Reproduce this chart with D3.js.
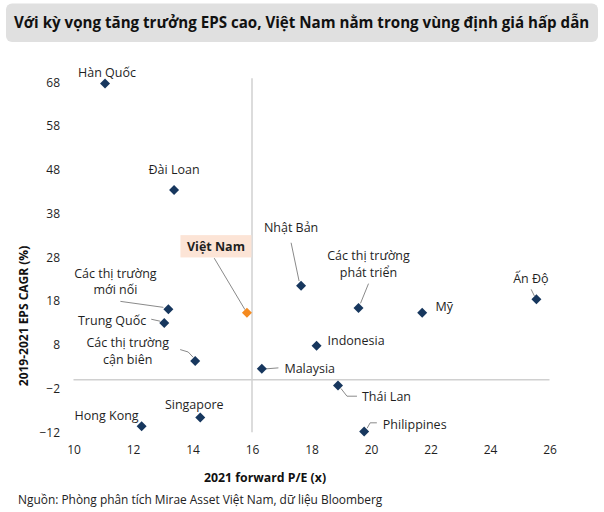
<!DOCTYPE html>
<html><head><meta charset="utf-8">
<script src="https://cdn.jsdelivr.net/npm/d3@7/dist/d3.min.js"></script>
<style>
html,body{margin:0;padding:0;background:#fff;}
svg{display:block;font-family:"Open Sans",sans-serif;}
</style></head><body>
<svg id="c" width="604" height="512"></svg>
<script>
// ---- data ----
const markets = ["Hàn Quốc","Đài Loan","Việt Nam","Các thị trường mới nổi","Trung Quốc","Các thị trường cận biên","Hong Kong","Singapore","Malaysia","Nhật Bản","Các thị trường phát triển","Mỹ","Ấn Độ","Indonesia","Thái Lan","Philippines"];
const forwardPE = [11.06,13.38,15.83,13.19,13.05,14.09,12.29,14.26,16.33,17.65,19.58,21.72,25.56,18.17,18.89,19.77];
const epsCAGR  = [67.7,43.4,15.35,16.1,13.0,4.3,-10.6,-8.6,2.5,21.5,16.4,15.3,18.4,7.8,-1.3,-11.8];
const xTicks = [10,12,14,16,18,20,22,24,26];
const yTicks = [-12,-2,8,18,28,38,48,58,68];
const title = "Với kỳ vọng tăng trưởng EPS cao, Việt Nam nằm trong vùng định giá hấp dẫn";
const xTitle = "2021 forward P/E (x)";
const yTitle = "2019-2021 EPS CAGR (%)";
const source = "Nguồn: Phòng phân tích Mirae Asset Việt Nam, dữ liệu Bloomberg";

// ---- label layout (pixel offsets from each point) ----
const labelLayout = {
  "Hàn Quốc": {lines:["Hàn Quốc"], dx:2, dy:-11, anchor:"middle"},
  "Đài Loan": {lines:["Đài Loan"], dx:0, dy:-20, anchor:"middle"},
  "Việt Nam": {lines:["Việt Nam"], dx:-31, dy:-66.5, anchor:"middle", box:true, leader:[[-32.7,-54.5],[-2,-3]]},
  "Các thị trường mới nổi": {lines:["Các thị trường","mới nối"], dx:-53, dy:-36, anchor:"middle", leader:[[-48,-8],[-5,-2]]},
  "Trung Quốc": {lines:["Trung Quốc"], dx:-18, dy:-2.7, anchor:"end", leader:[[-13,-3.7],[-4,-1.7]]},
  "Các thị trường cận biên": {lines:["Các thị trường","cận biên"], dx:-67.5, dy:-18, anchor:"middle", leader:[[-15,-11.4],[-7,-9],[-2,-3.7]]},
  "Hong Kong": {lines:["Hong Kong"], dx:-3, dy:-11, anchor:"end"},
  "Singapore": {lines:["Singapore"], dx:-6, dy:-13.3, anchor:"middle"},
  "Malaysia": {lines:["Malaysia"], dx:22.6, dy:0, anchor:"start", leader:[[4,0],[16.6,-1]]},
  "Nhật Bản": {lines:["Nhật Bản"], dx:-10, dy:-58.4, anchor:"middle", leader:[[-10,-43],[-2,-4.7]]},
  "Các thị trường phát triển": {lines:["Các thị trường","phát triển"], dx:10, dy:-52, anchor:"middle", leader:[[10,-24.4],[2,-4.7]]},
  "Mỹ": {lines:["Mỹ"], dx:13.3, dy:-6.7, anchor:"start"},
  "Ấn Độ": {lines:["Ấn Độ"], dx:-5.5, dy:-20.6, anchor:"middle", leader:[[-5.3,-10],[-2,-3.3]]},
  "Indonesia": {lines:["Indonesia"], dx:11, dy:-5, anchor:"start"},
  "Thái Lan": {lines:["Thái Lan"], dx:24, dy:11.4, anchor:"start", leader:[[3,3],[9,10.7],[19,10.7]]},
  "Philippines": {lines:["Philippines"], dx:18.7, dy:-7, anchor:"start", leader:[[3,-3.3],[6,-8.6],[12.7,-8.6]]}
};

const svg = d3.select("#c");
const navy = "#17375e", orange = "#f58a1f", txt = "#1f1f1f";

// title box
svg.append("rect").attr("x",6).attr("y",3.5).attr("width",592).attr("height",38.5)
  .attr("rx",6).attr("fill","#e0e0e0");
const tt = svg.append("text").attr("x",14).attr("y",27.5).attr("fill","#111")
  .attr("font-weight",700).attr("font-size",15).text(title);
const tw = tt.node().getComputedTextLength();
tt.attr("font-size", 15*576/tw);

const x = d3.scaleLinear().domain([10,26]).range([73.5,549.5]);
const y = d3.scaleLinear().domain([-12,68]).range([432.3,82.3]);

// axis lines (crossing at x=16, y=0)
svg.append("line").attr("x1",x(10)).attr("x2",x(26)).attr("y1",y(0)).attr("y2",y(0))
  .attr("stroke","#d0d0d0").attr("stroke-width",1.5);
svg.append("line").attr("x1",x(16)).attr("x2",x(16)).attr("y1",y(68)-4).attr("y2",y(-12))
  .attr("stroke","#d0d0d0").attr("stroke-width",1.5);

// tick labels via axes
const xAxis = svg.append("g").attr("transform",`translate(0,${445})`)
  .call(d3.axisBottom(x).tickValues(xTicks).tickSize(0).tickPadding(0).tickFormat(d3.format("d")));
xAxis.select(".domain").remove();
xAxis.selectAll("text").attr("font-size",12).attr("font-family","Open Sans").attr("fill",txt).attr("dy","0.71em");
const yAxis = svg.append("g").attr("transform",`translate(60,0)`)
  .call(d3.axisLeft(y).tickValues(yTicks).tickSize(0).tickPadding(0).tickFormat(d3.format("d")));
yAxis.select(".domain").remove();
yAxis.selectAll("text").attr("font-size",12).attr("font-family","Open Sans").attr("fill",txt);

// axis titles
svg.append("text").attr("x",265).attr("y",478).attr("dy","0.35em").attr("text-anchor","middle")
  .attr("font-weight",700).attr("font-size",12.3).attr("fill","#111").text(xTitle);
svg.append("text").attr("transform","translate(24,316) rotate(-90)").attr("dy","0.35em")
  .attr("text-anchor","middle").attr("font-weight",700).attr("font-size",12).attr("fill","#111").text(yTitle);

// source
const src = svg.append("text").attr("x",18).attr("y",500).attr("dy","0.35em").attr("font-size",11)
  .attr("fill","#222").text(source);
const sw = src.node().getComputedTextLength();
src.attr("font-size", 11*365/sw);

const data = markets.map((m,i)=>({name:m, pe:forwardPE[i], eps:epsCAGR[i]}));

// leaders
data.forEach(d=>{
  const L = labelLayout[d.name];
  if(!L.leader) return;
  const px=x(d.pe), py=y(d.eps);
  svg.append("polyline").attr("points", L.leader.map(p=>[px+p[0],py+p[1]].join(",")).join(" "))
    .attr("fill","none").attr("stroke","#8a8a8a").attr("stroke-width",1);
});

// points
svg.selectAll("path.pt").data(data).enter().append("path").attr("class","pt")
  .attr("d","M0,-5L5,0L0,5L-5,0Z")
  .attr("transform",d=>`translate(${x(d.pe)},${y(d.eps)})`)
  .attr("fill",d=>d.name==="Việt Nam"?orange:navy);

// labels
data.forEach(d=>{
  const L = labelLayout[d.name];
  const px=x(d.pe)+L.dx, py=y(d.eps)+L.dy;
  if(L.box){
    svg.append("rect").attr("x",px-35.5).attr("y",py-11).attr("width",71).attr("height",22.3).attr("fill","#fce4d6");
  }
  const t = svg.append("text").attr("x",px).attr("y",py).attr("text-anchor",L.anchor)
    .attr("font-size",12.5).attr("fill",txt).attr("font-weight",L.box?700:400);
  L.lines.forEach((ln,i)=>{
    t.append("tspan").attr("x",px).attr("y",py+i*16.7).attr("dy","0.35em").text(ln);
  });
});
</script>
</body></html>
